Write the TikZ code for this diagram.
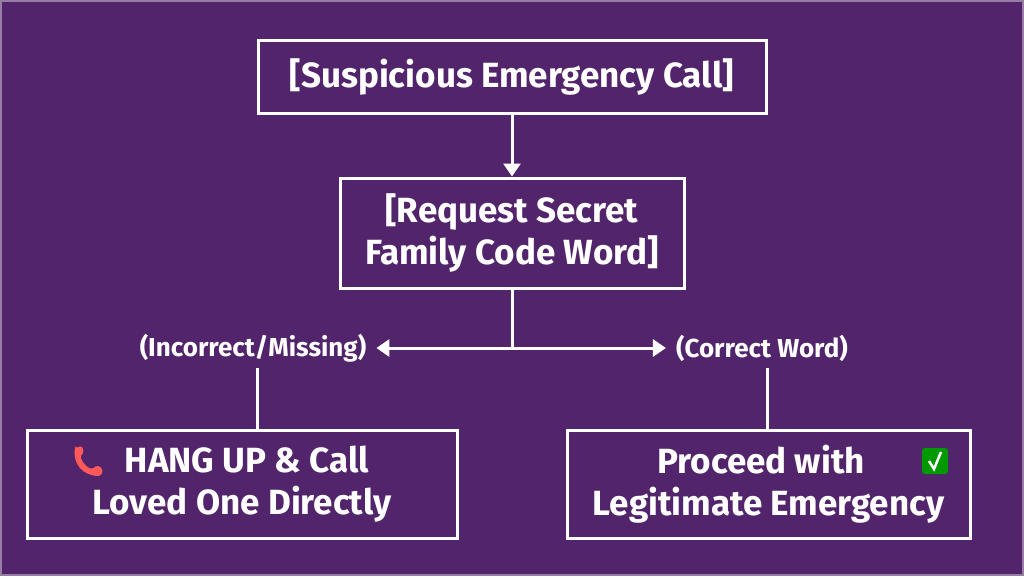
\documentclass[tikz,border=0pt]{standalone}
\usepackage{fontspec}
\setmainfont{Fira Sans}
\usetikzlibrary{arrows.meta}
\definecolor{bg}{HTML}{52246B}
\begin{document}
\begin{tikzpicture}[x=1pt,y=-1pt,
  box/.style={draw=white,line width=3pt,fill=bg,text=white,font=\fontsize{35}{42}\selectfont\bfseries,align=center,inner sep=0pt},
  lab/.style={text=white,font=\fontsize{26}{30}\selectfont\bfseries,inner sep=2pt},
  con/.style={draw=white,line width=3pt},
  arr/.style={con,-{Triangle[length=13pt,width=17pt]}}]
\fill[bg] (0,0) rectangle (1024,576);
\draw[white!40!bg,line width=2pt] (1,1) rectangle (1023,575);
\useasboundingbox (0,0) rectangle (1024,576);
\node[box,minimum width=508pt,minimum height=73pt] (a) at (512,76.5) {[Suspicious Emergency Call]};
\node[box,minimum width=344pt,minimum height=110pt] (b) at (512,233) {[Request Secret\\Family Code Word]};
\node[box,minimum width=430pt,minimum height=108pt] (l) at (242,484) {\hspace*{10pt}HANG UP \& Call\\Loved One Directly};
\node[box,minimum width=403pt,minimum height=108pt] (r) at (768.5,484) {Proceed with\hspace*{15pt}\null\\Legitimate Emergency};
\node[lab] (il) at (253,348) {(Incorrect/Missing)};
\node[lab] (cl) at (762,348) {(Correct Word)};
\coordinate (j) at (512,348);
\draw[arr] (a) -- (b);
\draw[con] (b) -- (j);
\draw[arr,shorten >=8pt] (j) -- (il.east);
\draw[arr,shorten >=8pt] (j) -- (cl.west);
\draw[con] (257,368) -- (257,430);
\draw[con] (767,368) -- (767,430);
% phone icon
\begin{scope}[shift={(88,461)}]
\fill[red!65!white,rounded corners=2pt] (-13,-13) -- (-6,-15) -- (-4,-8) -- (-8,-5)
  .. controls (-5,3) and (0,7) .. (5,8) -- (9,4) -- (15,8) -- (13,15)
  .. controls (-5,15) and (-15,3) .. cycle;
\end{scope}
% check icon
\begin{scope}[shift={(935,461)}]
\fill[green!60!black,rounded corners=3pt] (-13,-13) rectangle (13,13);
\draw[white,line width=2.5pt] (-6,0) -- (-1,8) -- (6,-9);
\end{scope}
\end{tikzpicture}
\end{document}
